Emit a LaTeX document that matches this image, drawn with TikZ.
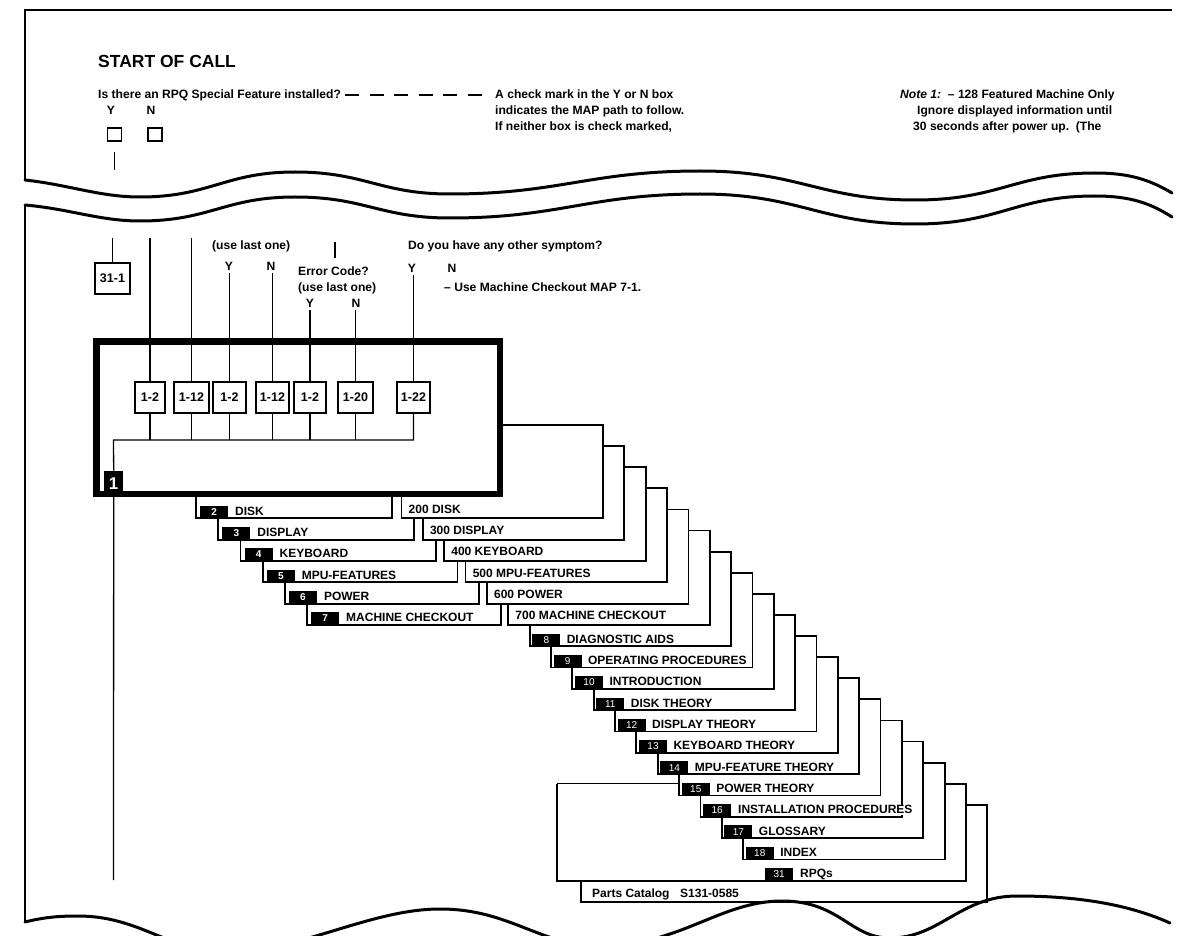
\documentclass[tikz,border=0pt]{standalone}
\usepackage{fontspec}
\setmainfont{Liberation Sans}
\usetikzlibrary{calc}
\begin{document}
\begin{tikzpicture}[x=1pt,y=-1pt,
  frame/.style={line width=2.2pt},
  wave/.style={line width=3pt, line cap=round},
  card/.style={line width=1.8pt},
  conn/.style={line width=1.3pt},
  txt/.style={anchor=base west, inner sep=0pt, font=\fontsize{12.1}{14}\selectfont\bfseries},
  yn/.style={anchor=base, inner sep=0pt, font=\fontsize{12.1}{14}\selectfont\bfseries},
  tabtxt/.style={anchor=base west, inner sep=0pt, font=\fontsize{12}{14}\selectfont\bfseries},
  lbl/.style={fill=black, text=white, inner sep=0pt, minimum width=28pt, minimum height=12.5pt, anchor=south west, font=\fontsize{10}{10}\selectfont},
  ibox/.style={draw, line width=1.3pt, minimum height=31pt, inner sep=0pt, font=\fontsize{12.5}{14}\selectfont\bfseries},
  chk/.style={draw, line width=1.2pt, minimum width=14pt, minimum height=13pt, inner sep=0pt}
]
\useasboundingbox (0,0) rectangle (1195,936);
\clip (0,0) rectangle (1195,936);

% ---------- page frame and waves ----------
\draw[frame] (25,180) -- (25,10) -- (1172,10);
\draw[wave] (25,180) .. controls (70,185) and (100,197) .. (140,197)
  .. controls (210,197) and (225,172) .. (295,172)
  .. controls (365,172) and (380,194) .. (450,194)
  .. controls (560,194) and (590,171) .. (700,171)
  .. controls (800,171) and (820,200) .. (915,200)
  .. controls (1000,200) and (1015,173) .. (1095,173)
  .. controls (1130,173) and (1150,180) .. (1172,193);
\draw[wave] (25,205) .. controls (70,209) and (100,221) .. (140,221)
  .. controls (210,221) and (225,197) .. (295,197)
  .. controls (365,197) and (380,218) .. (450,218)
  .. controls (560,218) and (590,194) .. (700,194)
  .. controls (800,194) and (820,224) .. (915,224)
  .. controls (1000,224) and (1015,196) .. (1095,196)
  .. controls (1130,196) and (1150,203) .. (1172,217);
\draw[frame] (25,205) -- (25,922);
\draw[wave] (25,922) .. controls (45,917) and (60,916) .. (78,916)
  .. controls (140,916) and (170,952) .. (225,952)
  .. controls (300,952) and (370,909) .. (440,909)
  .. controls (510,909) and (540,946) .. (600,946)
  .. controls (680,946) and (720,901) .. (782,901)
  .. controls (840,901) and (850,938) .. (890,938)
  .. controls (940,938) and (960,896) .. (1017,896)
  .. controls (1080,896) and (1130,905) .. (1170,923);

% ---------- top section ----------
\node[anchor=base west, inner sep=0pt, font=\fontsize{17.5}{20}\selectfont\bfseries] (title) at (98,68) {START OF CALL};
\node[txt] (q) at (98,99) {Is there an RPQ Special Feature installed?};
\node[txt] (ck1) at (495,99) {A check mark in the Y or N box};
\node[txt] (ck2) at (495,115) {indicates the MAP path to follow.};
\node[txt] (ck3) at (495,131) {If neither box is check marked,};
\draw[line width=1.2pt, dash pattern=on 14pt off 10.5pt] ([xshift=4pt,yshift=4pt]q.base east) -- ([xshift=-10pt,yshift=4pt]ck1.base west);
\node[txt] (nt1) at (900,99) {\textit{Note 1:}\ \ – 128 Featured Machine Only};
\node[txt] (nt2) at (917,115) {Ignore displayed information until};
\node[txt] (nt3) at (913,131) {30 seconds after power up.\ \ (The};
\node[yn] (ty) at (111,115) {Y};
\node[yn] (tn) at (151,115) {N};
\node[chk] (cy) at (114.5,134.5) {};
\node[chk] (cn) at (155,134.5) {};
\coordinate (ys) at (114.5,152);
\coordinate (ye) at (114.5,170);
\draw[line width=1.8pt] (ys) -- (ye);

% ---------- lower section: questions ----------
\node[txt] (u1) at (212,250) {(use last one)};
\node[yn] (y1) at (229,271) {Y};
\node[yn] (n1) at (271,271) {N};
\node[txt] (ec) at (298,276) {Error Code?};
\node[txt] (u2) at (298,292) {(use last one)};
\node[yn] (y2) at (310,308) {Y};
\node[yn] (n2) at (356,308) {N};
\node[txt] (dq) at (408,250) {Do you have any other symptom?};
\node[yn] (y3) at (412,273) {Y};
\node[yn] (n3) at (452,273) {N};
\node[txt] (um) at (444,292) {– Use Machine Checkout MAP 7-1.};

% ---------- main thick box ----------
\node[draw, line width=6.5pt, minimum width=403.5pt, minimum height=152.5pt, inner sep=0pt, outer sep=0pt] (main) at (298,417.5) {};
\node[fill=black, text=white, inner sep=0pt, minimum width=19pt, minimum height=26pt, anchor=south west, font=\fontsize{17}{17}\selectfont\bfseries] (one) at (104,497) {1};

\node[ibox, minimum width=35pt] (box311) at (112.5,278.5) {31-1};
\node[ibox, minimum width=30pt] (b1) at (150,397.5) {1-2};
\node[ibox, minimum width=35pt] (b2) at (191.5,397.5) {1-12};
\node[ibox, minimum width=33pt] (b3) at (229.5,397.5) {1-2};
\node[ibox, minimum width=33pt] (b4) at (272.5,397.5) {1-12};
\node[ibox, minimum width=32pt] (b5) at (310,397.5) {1-2};
\node[ibox, minimum width=35pt] (b6) at (355.5,397.5) {1-20};
\node[ibox, minimum width=33pt] (b7) at (413.5,397.5) {1-22};

\coordinate (t1) at (112.5,238);
\coordinate (t2) at (150,238);
\coordinate (t3) at (191.5,238);
\coordinate (s1) at (335,242);
\coordinate (s2) at (335,258);
\draw[conn] (t1) -- (box311.north);
\draw[conn] (t2) -- (b1.north);
\draw[conn] (t3) -- (b2.north);
\draw[conn] (s1) -- (s2);
\draw[conn] ([yshift=-2pt]b3.north |- y1.south) -- (b3.north);
\draw[conn] ([yshift=-2pt]b4.north |- n1.south) -- (b4.north);
\draw[conn] ([yshift=-2pt]b5.north |- y2.south) -- (b5.north);
\draw[conn] ([yshift=-2pt]b6.north |- n2.south) -- (b6.north);
\draw[conn] ([yshift=-2pt]b7.north |- y3.south) -- (b7.north);
\coordinate (busL) at (113.5,440);
\draw[conn] (b7.south) |- (busL) -- (one.north);
\foreach \b in {b1,b2,b3,b4,b5,b6} \draw[conn] (\b.south) -- (\b.south |- busL);
\coordinate (lend) at (113.5,880);
\draw[conn] (one.south) -- (lend);

% ---------- left tabs (sections 2-7) ----------
\foreach \k/\t in {1/DISK,2/DISPLAY,3/KEYBOARD,4/MPU-FEATURES,5/POWER,6/MACHINE CHECKOUT}{
  \pgfmathsetmacro\xL{196+22.2*(\k-1)}
  \pgfmathsetmacro\xR{392+21.8*(\k-1)}
  \pgfmathsetmacro\yB{497+21.32*\k}
  \pgfmathsetmacro\yBp{497+21.32*(\k-1)}
  \pgfmathtruncatemacro\n{\k+1}
  \draw[card] (\xL,\yBp) -- (\xL,\yB) -- (\xR,\yB) -- (\xR,\yBp);
  \node[lbl, font=\fontsize{10}{10}\selectfont\bfseries] (l\n) at (\xL+4,\yB) {\n};
  \node[tabtxt] (m\n) at (\xL+39,\yB-3) {\t};
}

% ---------- right cascade of cards ----------
\foreach \k in {1,...,17}{
  \pgfmathsetmacro\xL{401.5+21.35*(\k-1)}
  \pgfmathsetmacro\xR{603+21.35*(\k-1)}
  \pgfmathsetmacro\xRp{ifthenelse(\k==1,500,603+21.35*(\k-2))}
  \pgfmathsetmacro\yT{425+21.1*(\k-1)}
  \pgfmathsetmacro\yB{497+21.32*\k}
  \pgfmathsetmacro\yBp{497+21.32*(\k-1)}
  \draw[card] (\xL,\yBp) -- (\xL,\yB) -- (\xR,\yB) -- (\xR,\yT) -- (\xRp,\yT);
}
\foreach \k/\t in {1/200 DISK,2/300 DISPLAY,3/400 KEYBOARD,4/500 MPU-FEATURES,5/600 POWER,6/700 MACHINE CHECKOUT}{
  \pgfmathsetmacro\xL{401.5+21.35*(\k-1)}
  \pgfmathsetmacro\yB{497+21.32*\k}
  \node[tabtxt] (r\k) at (\xL+7,\yB-5) {\t};
}
\foreach \k/\n/\t in {7/8/DIAGNOSTIC AIDS,8/9/OPERATING PROCEDURES,9/10/INTRODUCTION,10/11/DISK THEORY,11/12/DISPLAY THEORY,12/13/KEYBOARD THEORY,13/14/MPU-FEATURE THEORY,14/15/POWER THEORY,16/17/GLOSSARY,17/18/INDEX}{
  \pgfmathsetmacro\xL{401.5+21.35*(\k-1)}
  \pgfmathsetmacro\yB{497+21.32*\k}
  \node[lbl] (n\n) at (\xL+2.5,\yB) {\n};
  \node[tabtxt] (s\n) at (\xL+37,\yB-3) {\t};
}
% section 16 (its title runs past its own edge)
\node[lbl] (n16) at (401.5+21.35*14+2.5,497+21.32*15) {16};
\node[tabtxt, fill=white, inner sep=0.6pt] (s16) at (401.5+21.35*14+37,497+21.32*15-3) {INSTALLATION PROCEDURES};

% RPQs card
\draw[card] (557,783.5) -- (680,783.5);
\draw[card] (557,783.5) -- (557,880.8) -- (965.6,880.8) -- (965.6,783.7) -- (944.2,783.7);
\node[lbl] (n31) at (765,880.8) {31};
\node[tabtxt] (s31) at (800,877.5) {RPQs};
% Parts catalog card
\draw[card] (581,880.8) -- (581,902.1) -- (987,902.1) -- (987,804.8) -- (965.6,804.8);
\node[tabtxt] (pc) at (592,897.5) {Parts Catalog};
\node[tabtxt] (pn) at (680,897.5) {S131-0585};
\end{tikzpicture}
\end{document}
